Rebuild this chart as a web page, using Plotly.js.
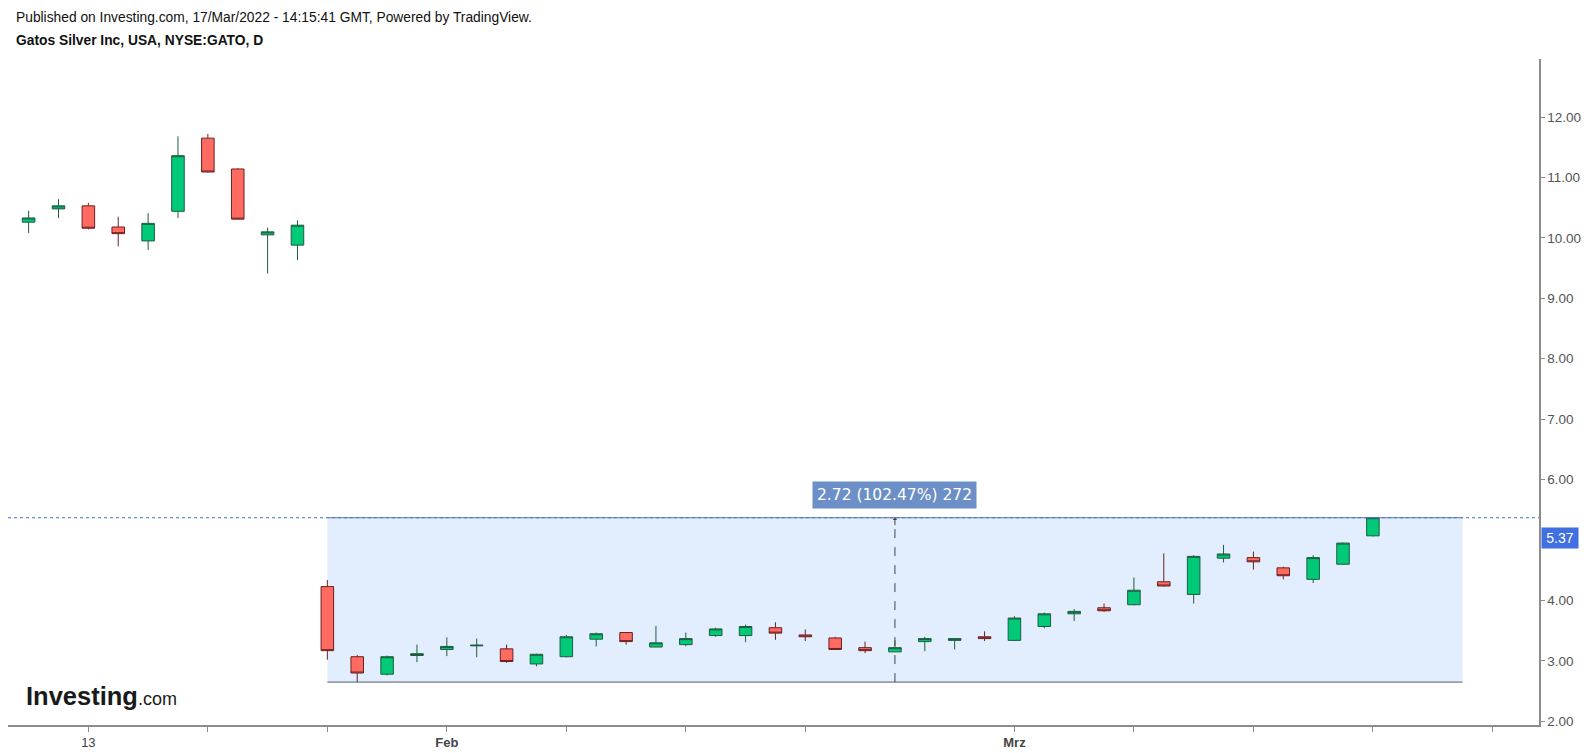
<!DOCTYPE html>
<html>
<head>
<meta charset="utf-8">
<script src="https://cdn.plot.ly/plotly-3.0.1.min.js"></script>
<style>
  html, body { margin: 0; padding: 0; background: #fff; }
  #chart { width: 1593px; height: 753px; }
</style>
</head>
<body>
<div id="chart"></div>
<script>
// daily bars, NYSE:GATO
var dates = [
    '2022-01-11', '2022-01-12', '2022-01-13', '2022-01-14', '2022-01-18', '2022-01-19', '2022-01-20', '2022-01-21',
    '2022-01-24', '2022-01-25', '2022-01-26', '2022-01-27', '2022-01-28', '2022-01-31', '2022-02-01', '2022-02-02',
    '2022-02-03', '2022-02-04', '2022-02-07', '2022-02-08', '2022-02-09', '2022-02-10', '2022-02-11', '2022-02-14',
    '2022-02-15', '2022-02-16', '2022-02-17', '2022-02-18', '2022-02-22', '2022-02-23', '2022-02-24', '2022-02-25',
    '2022-02-28', '2022-03-01', '2022-03-02', '2022-03-03', '2022-03-04', '2022-03-07', '2022-03-08', '2022-03-09',
    '2022-03-10', '2022-03-11', '2022-03-14', '2022-03-15', '2022-03-16', '2022-03-17'
];
// empty days on the right of the chart
var futureDates = ['2022-03-18', '2022-03-21', '2022-03-22', '2022-03-23', '2022-03-24', '2022-03-25'];

var opens = [10.26, 10.48, 10.53, 10.18, 9.95, 10.44, 11.65, 11.14, 10.05, 9.88,
    4.23, 3.07, 2.78, 3.09, 3.19, 3.25, 3.20, 2.95, 3.07, 3.36,
    3.47, 3.23, 3.27, 3.42, 3.42, 3.55, 3.43, 3.38, 3.22, 3.15,
    3.32, 3.34, 3.40, 3.34, 3.57, 3.78, 3.88, 3.93, 4.31, 4.10,
    4.70, 4.71, 4.54, 4.35, 4.60, 5.07];
var highs = [10.45, 10.64, 10.58, 10.35, 10.41, 11.68, 11.72, 11.15, 10.17, 10.29,
    4.34, 3.10, 3.09, 3.27, 3.39, 3.37, 3.27, 3.12, 3.43, 3.47,
    3.48, 3.58, 3.47, 3.55, 3.60, 3.64, 3.52, 3.40, 3.32, 3.34,
    3.40, 3.37, 3.49, 3.74, 3.80, 3.86, 3.95, 4.38, 4.78, 4.75,
    4.92, 4.81, 4.56, 4.75, 4.96, 5.38];
var lows = [10.08, 10.33, 10.14, 9.86, 9.80, 10.33, 11.08, 10.30, 9.41, 9.63,
    3.02, 2.65, 2.76, 2.98, 3.08, 3.06, 2.97, 2.91, 3.06, 3.24,
    3.27, 3.23, 3.24, 3.40, 3.31, 3.35, 3.33, 3.18, 3.13, 3.15,
    3.16, 3.19, 3.33, 3.33, 3.54, 3.66, 3.81, 3.92, 4.23, 3.95,
    4.63, 4.51, 4.35, 4.29, 4.59, 5.06];
var closes = [10.33, 10.53, 10.16, 10.07, 10.24, 11.36, 11.09, 10.31, 10.10, 10.21,
    3.17, 2.80, 3.07, 3.12, 3.24, 3.26, 2.99, 3.11, 3.40, 3.45,
    3.32, 3.30, 3.37, 3.53, 3.57, 3.46, 3.40, 3.19, 3.17, 3.22,
    3.37, 3.37, 3.37, 3.71, 3.78, 3.82, 3.83, 4.17, 4.24, 4.73,
    4.77, 4.64, 4.41, 4.71, 4.95, 5.37];

var tickDates = ['2022-01-13', '2022-01-20', '2022-01-26', '2022-02-01', '2022-02-07', '2022-02-11',
    '2022-02-17', '2022-03-01', '2022-03-07', '2022-03-11', '2022-03-17', '2022-03-23'];
var tickLabels = ['13', '', '', '<b>Feb</b>', '', '', '', '<b>Mrz</b>', '', '', '', ''];
// 5.00 sits under the last price label
var priceTicks = [2, 3, 4, 6, 7, 8, 9, 10, 11, 12];

var measureText = '2.72 (102.47%) 272';
var headerText = 'Published on Investing.com, 17/Mar/2022 - 14:15:41 GMT, Powered by TradingView.';
var symbolText = 'Gatos Silver Inc, USA, NYSE:GATO, D';

var allDates = dates.concat(futureDates);
var lastClose = closes[closes.length - 1];
var lowMin = Math.min.apply(null, lows);
var boxStart = allDates.indexOf('2022-01-26');
var boxEnd = allDates.indexOf('2022-03-22');
var boxMid = (boxStart + boxEnd) / 2;

var trace = {
    type: 'candlestick',
    x: dates,
    open: opens,
    high: highs,
    low: lows,
    close: closes,
    whiskerwidth: 0,
    increasing: { fillcolor: '#00c977', line: { color: '#1f5c3f', width: 1 } },
    decreasing: { fillcolor: '#ff6b61', line: { color: '#6b2020', width: 1 } },
    hoverinfo: 'skip'
};

var layout = {
    width: 1593,
    height: 753,
    margin: { l: 8, r: 54, t: 59, b: 28, pad: 0 },
    paper_bgcolor: '#ffffff',
    plot_bgcolor: '#ffffff',
    showlegend: false,
    hovermode: false,
    boxgap: 0.4,
    font: { family: 'Liberation Sans, Arial, sans-serif', color: '#333' },
    xaxis: {
        type: 'category',
        categoryorder: 'array',
        categoryarray: allDates,
        range: [-0.69, 50.56],
        rangeslider: { visible: false },
        showgrid: false,
        zeroline: false,
        showline: true,
        linecolor: '#8c8c8c',
        linewidth: 1.5,
        ticks: 'outside',
        ticklen: 5,
        tickcolor: '#8c8c8c',
        tickmode: 'array',
        tickvals: tickDates,
        ticktext: tickLabels,
        tickfont: { size: 13, color: '#444' }
    },
    yaxis: {
        side: 'right',
        range: [1.94, 12.96],
        showgrid: false,
        zeroline: false,
        showline: true,
        linecolor: '#8c8c8c',
        linewidth: 1.5,
        ticks: 'outside',
        ticklen: 4,
        tickcolor: '#8c8c8c',
        tickmode: 'array',
        tickvals: priceTicks,
        tickformat: '.2f',
        tickfont: { size: 13.5, color: '#555' }
    },
    shapes: [
        // measurement range
        { type: 'rect', xref: 'x', yref: 'y', x0: boxStart, x1: boxEnd, y0: lowMin, y1: lastClose,
          fillcolor: '#e2eefd', line: { width: 0 }, layer: 'below' },
        { type: 'line', xref: 'x', yref: 'y', x0: boxStart, x1: boxEnd, y0: lowMin, y1: lowMin,
          line: { color: '#555d6b', width: 1 } },
        // last price line
        { type: 'line', xref: 'paper', yref: 'y', x0: 0, x1: 1, y0: lastClose, y1: lastClose,
          line: { color: '#3f6fd8', width: 1, dash: 'dot' } },
        { type: 'line', xref: 'x', yref: 'y', x0: boxStart, x1: boxEnd, y0: lastClose, y1: lastClose,
          line: { color: '#5473bf', width: 1 } },
        { type: 'line', xref: 'x', yref: 'y', x0: boxMid, x1: boxMid, y0: lowMin, y1: lastClose,
          line: { color: '#444', width: 1, dash: 'dash' } },
        // right border
        { type: 'line', xref: 'paper', yref: 'paper', x0: 1.036, x1: 1.036, y0: -0.05, y1: 1.1,
          line: { color: '#000', width: 1.5 } }
    ],
    annotations: [
        { xref: 'paper', yref: 'paper', x: 0.0039, y: 1.063, xanchor: 'left', yanchor: 'middle',
          text: headerText, showarrow: false, font: { size: 13.8, color: '#111' } },
        { xref: 'paper', yref: 'paper', x: 0.0039, y: 1.0285, xanchor: 'left', yanchor: 'middle',
          text: '<b>' + symbolText + '</b>', showarrow: false, font: { size: 13.8, color: '#111' } },
        { xref: 'x', yref: 'y', x: boxMid, y: 5.75, xanchor: 'center', yanchor: 'middle',
          text: measureText, showarrow: false, bgcolor: '#6b8fc6', borderpad: 4,
          font: { family: 'DejaVu Sans, Verdana, sans-serif', size: 15.5, color: '#fff' } },
        { xref: 'x', yref: 'y', x: boxMid, y: lastClose, ax: 0, ay: 9, text: '', showarrow: true,
          arrowhead: 1, arrowsize: 0.8, arrowwidth: 1, arrowcolor: '#444' },
        { xref: 'paper', yref: 'y', x: 1.001, y: 5.04, xanchor: 'left', yanchor: 'middle',
          text: lastClose.toFixed(2), showarrow: false, bgcolor: '#3f6fe0', width: 34, height: 18,
          align: 'center', font: { size: 14, color: '#fff' } },
        { xref: 'paper', yref: 'paper', x: 0.0105, y: 0.02, xanchor: 'left', yanchor: 'bottom',
          text: '<b>Investing</b><span style="font-size:18px">.com</span>', showarrow: false,
          font: { size: 25.5, color: '#1a1a1a' } }
    ]
};

Plotly.newPlot('chart', [trace], layout, { displayModeBar: false, staticPlot: true });
</script>
</body>
</html>
